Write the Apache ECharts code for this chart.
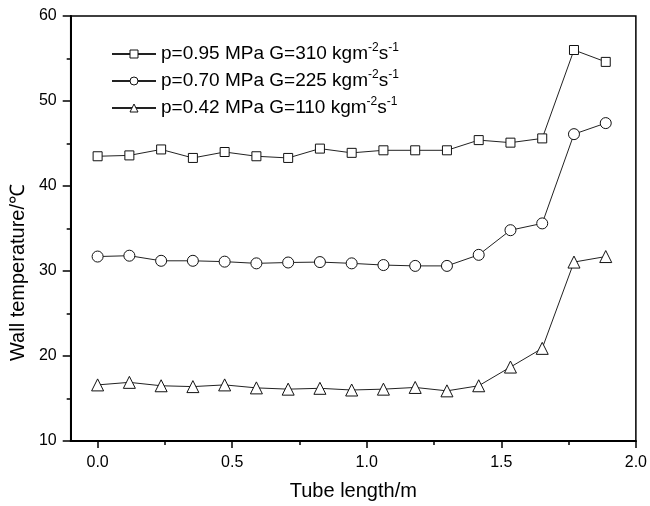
<!DOCTYPE html>
<html>
<head>
<meta charset="utf-8">
<script src="https://cdn.jsdelivr.net/npm/echarts@6/dist/echarts.min.js"></script>
<style>
  html, body { margin: 0; padding: 0; background: #fff; }
  #chart { width: 650px; height: 506px; }
</style>
</head>
<body>
<div id="chart"></div>
<script>
'use strict';
// DATA
const tubeLength = [0, 0.118, 0.236, 0.354, 0.472, 0.59, 0.708, 0.826, 0.944,
  1.062, 1.18, 1.298, 1.416, 1.534, 1.652, 1.77, 1.888];
const tempHigh = [43.5, 43.6, 44.3, 43.3, 44.0, 43.5, 43.3, 44.4, 43.9,
  44.2, 44.2, 44.2, 45.4, 45.1, 45.6, 56.0, 54.6];
const tempMid = [31.7, 31.8, 31.2, 31.2, 31.1, 30.9, 31.0, 31.05, 30.9,
  30.7, 30.6, 30.6, 31.9, 34.8, 35.6, 46.1, 47.4];
const tempLow = [16.6, 16.9, 16.5, 16.4, 16.6, 16.25, 16.1, 16.2, 16.0,
  16.1, 16.3, 15.9, 16.5, 18.7, 20.9, 31.05, 31.7];
const seriesNames = ['p=0.95 MPa G=310', 'p=0.70 MPa G=225', 'p=0.42 MPa G=110'];
const xTicks = [0, 0.5, 1.0, 1.5, 2.0];
const xMinorTicks = [0.25, 0.75, 1.25, 1.75];

// CHART
const myChart = echarts.init(document.getElementById('chart'));
const font = 'Arial, "Liberation Sans", sans-serif';

function makeSeries(name, values, symbol, size) {
  return {
    name: name,
    type: 'line',
    data: tubeLength.map((x, i) => [x, values[i]]),
    symbol: symbol,
    symbolSize: size,
    showAllSymbol: true,
    lineStyle: {color: '#222', width: 1},
    itemStyle: {color: '#fff', borderColor: '#111', borderWidth: 1},
    emphasis: {disabled: true},
    animation: false,
    z: 3,
  };
}

const option = {
  backgroundColor: '#fff',
  animation: false,
  grid: {
    left: 70, right: 10, top: 16, bottom: 64,
    show: true, borderColor: '#000', borderWidth: 1.5,
  },
  legend: {
    orient: 'vertical',
    left: 106,
    top: 37,
    itemWidth: 44,
    itemHeight: 10,
    itemGap: 5,
    itemStyle: {borderWidth: 1},
    textStyle: {
      fontFamily: font,
      fontSize: 19,
      color: '#000',
      rich: {
        n: {fontFamily: font, fontSize: 19, color: '#000', lineHeight: 24},
        sup: {fontFamily: font, fontSize: 12, color: '#000',
          verticalAlign: 'top', lineHeight: 24, padding: [0, 0, 10, 0]},
      },
    },
    formatter: (name) => `{n|${name} kgm}{sup|-2}{n|s}{sup|-1}`,
    data: seriesNames,
  },
  xAxis: [
    {
      type: 'value',
      min: -0.1,
      max: 2.0,
      name: 'Tube length/m',
      nameLocation: 'middle',
      nameGap: 40,
      nameTextStyle: {fontFamily: font, fontSize: 20, color: '#000'},
      axisLine: {onZero: false, lineStyle: {color: '#000', width: 2}},
      axisTick: {show: true, length: 7, customValues: xTicks,
        lineStyle: {color: '#000', width: 1.5}},
      axisLabel: {customValues: xTicks, margin: 14, fontFamily: font,
        fontSize: 16, color: '#000',
        formatter: (v) => v.toFixed(1)},
      splitLine: {show: false},
    },
    {
      type: 'value',
      min: -0.1,
      max: 2.0,
      position: 'bottom',
      axisLine: {show: false},
      axisTick: {show: true, length: 4, customValues: xMinorTicks,
        lineStyle: {color: '#000', width: 1.5}},
      axisLabel: {show: false},
      splitLine: {show: false},
    },
  ],
  yAxis: {
    type: 'value',
    min: 10,
    max: 60,
    interval: 10,
    name: 'Wall temperature/\u2103',
    nameLocation: 'middle',
    nameGap: 42,
    nameTextStyle: {fontFamily: font, fontSize: 20, color: '#000',
      padding: [0, 88, 0, 0]},
    axisLine: {show: true, onZero: false,
      lineStyle: {color: '#000', width: 2}},
    axisTick: {show: true, length: 8, lineStyle: {color: '#000', width: 1.5}},
    minorTick: {show: true, splitNumber: 2, length: 4,
      lineStyle: {color: '#000', width: 1.5}},
    axisLabel: {margin: 14, fontFamily: font, fontSize: 16, color: '#000'},
    splitLine: {show: false},
  },
  series: [
    makeSeries(seriesNames[0], tempHigh, 'rect', 9),
    makeSeries(seriesNames[1], tempMid, 'circle', 11),
    makeSeries(seriesNames[2], tempLow, 'triangle', 12),
  ],
};

myChart.setOption(option);
</script>
</body>
</html>
